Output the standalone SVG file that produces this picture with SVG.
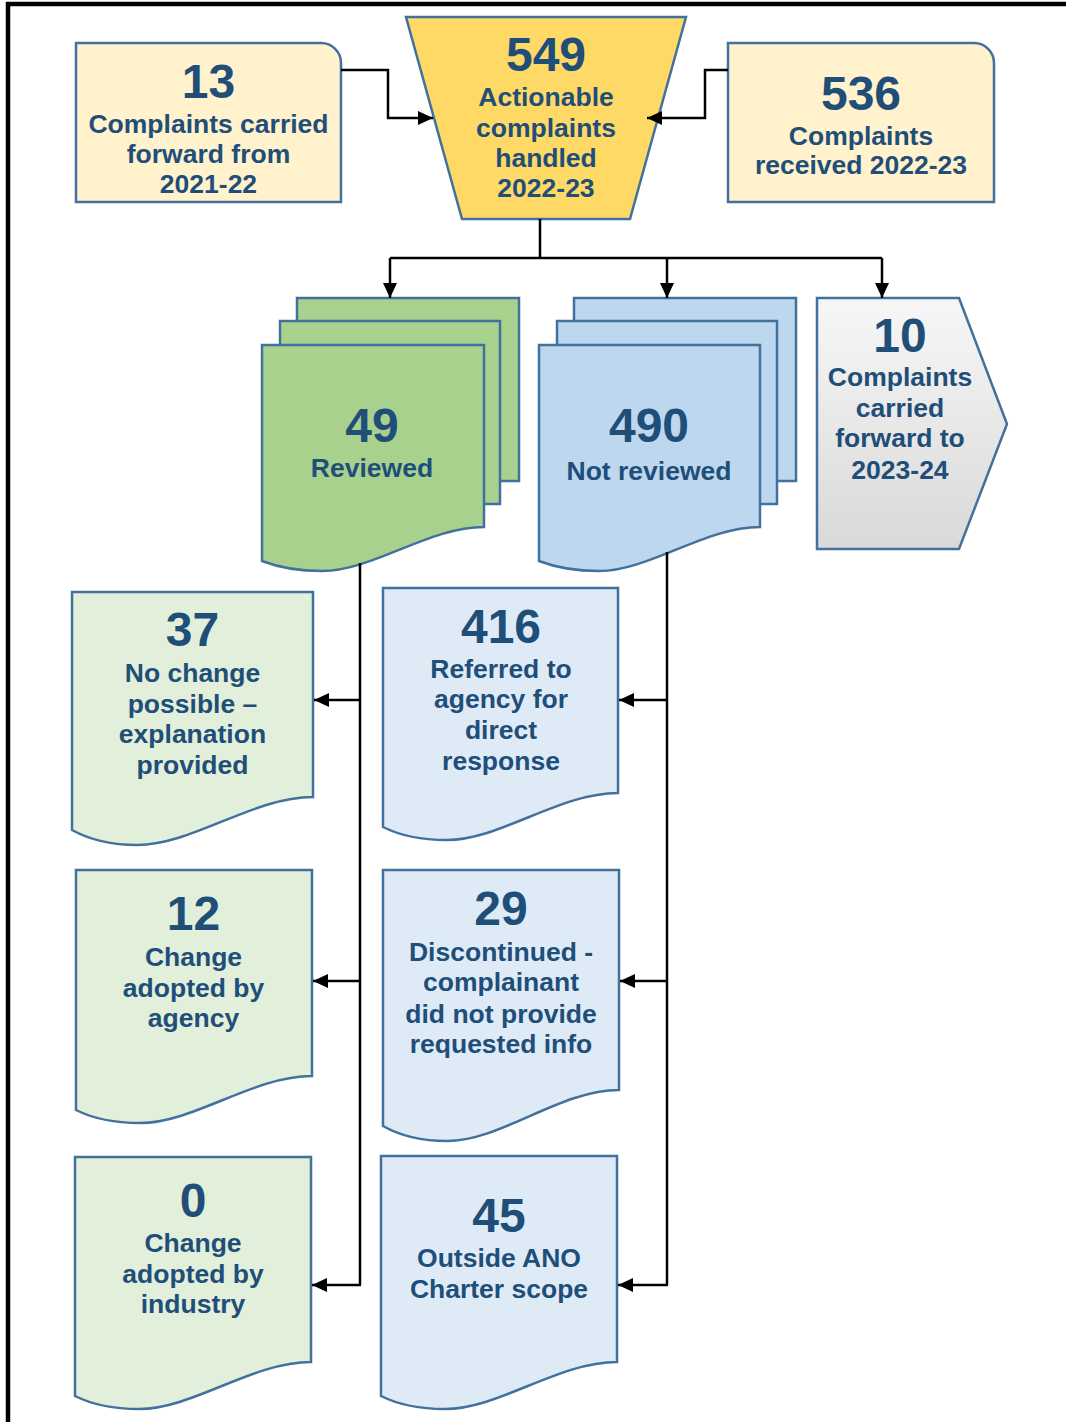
<svg xmlns="http://www.w3.org/2000/svg" width="1066" height="1422" viewBox="0 0 1066 1422">
<style>
.sh{stroke:#41719C;stroke-width:2.5;stroke-linejoin:miter}
.yl{fill:#FFF2CC}.yd{fill:#FFD966}
.gd{fill:#A9D18E}.gl{fill:#E2EFDA}
.bd{fill:#BDD7EE}.bl{fill:#DEEBF7}
.gr{fill:url(#grey)}
text{font-family:"Liberation Sans",Arial,sans-serif;font-weight:bold;fill:#1F4E79;text-anchor:middle}
.n{font-size:48px}.t{font-size:26.5px}
.c{fill:none;stroke:#000;stroke-width:2.5}
.a{marker-end:url(#arr)}
</style>
<defs>
<linearGradient id="grey" x1="0" y1="0" x2="0" y2="1">
<stop offset="0" stop-color="#F7F7F7"/>
<stop offset="1" stop-color="#D9D9D9"/>
</linearGradient>
<marker id="arr" markerWidth="15" markerHeight="14" refX="15" refY="7" orient="auto" markerUnits="userSpaceOnUse">
<path d="M0,0 L15,7 L0,14 Z" fill="#000"/>
</marker>
</defs>
<rect width="1066" height="1422" fill="#fff"/>
<path d="M8,1422 V4 H1066" fill="none" stroke="#000" stroke-width="4.5"/>

<g id="n13">
<path class="sh yl" d="M76,43 H321 A20,20 0 0 1 341,63 V202 H76 Z"/>
<text class="n" x="208.5" y="98">13</text>
<text class="t" x="208.5" y="133">Complaints carried</text>
<text class="t" x="208.5" y="163">forward from</text>
<text class="t" x="208.5" y="193">2021-22</text>
</g>
<g id="n549">
<path class="sh yd" d="M406,17 H686 L630,219 H462 Z"/>
<text class="n" x="546" y="71">549</text>
<text class="t" x="546" y="106">Actionable</text>
<text class="t" x="546" y="137">complaints</text>
<text class="t" x="546" y="167">handled</text>
<text class="t" x="546" y="197">2022-23</text>
</g>
<g id="n536">
<path class="sh yl" d="M728,43 H974 A20,20 0 0 1 994,63 V202 H728 Z"/>
<text class="n" x="861" y="110">536</text>
<text class="t" x="861" y="145">Complaints</text>
<text class="t" x="861" y="174">received 2022-23</text>
</g>
<g id="n49">
<rect class="sh gd" x="297" y="298" width="222" height="183"/>
<rect class="sh gd" x="280" y="321" width="220" height="183"/>
<path class="sh gd" d="M262,345 H484 V527 C428.5,527 373,571 322,571 C295,571 275,566 262,561 Z"/>
<text class="n" x="372" y="442">49</text>
<text class="t" x="372" y="477">Reviewed</text>
</g>
<g id="n490">
<rect class="sh bd" x="574" y="298" width="222" height="183"/>
<rect class="sh bd" x="557" y="321" width="220" height="183"/>
<path class="sh bd" d="M539,345 H760 V527 C705,527 649.5,571 599,571 C572,571 552,566 539,561 Z"/>
<text class="n" x="649" y="442">490</text>
<text class="t" x="649" y="480">Not reviewed</text>
</g>
<g id="n10">
<path class="sh gr" d="M817,298 H959 L1007,424 L959,549 H817 Z"/>
<text class="n" x="900" y="352">10</text>
<text class="t" x="900" y="386">Complaints</text>
<text class="t" x="900" y="417">carried</text>
<text class="t" x="900" y="447">forward to</text>
<text class="t" x="900" y="479">2023-24</text>
</g>
<g id="n37">
<path class="sh gl" d="M72,592 H313 V797 C253,797 192.5,845 137,845 C108,845 86.5,838 72,830 Z"/>
<text class="n" x="192.5" y="646">37</text>
<text class="t" x="192.5" y="682">No change</text>
<text class="t" x="192.5" y="713">possible –</text>
<text class="t" x="192.5" y="743">explanation</text>
<text class="t" x="192.5" y="774">provided</text>
</g>
<g id="n416">
<path class="sh bl" d="M383,588 H618 V793 C559,793 500.5,840 446.5,840 C418,840 397,834 383,827 Z"/>
<text class="n" x="501" y="643">416</text>
<text class="t" x="501" y="678">Referred to</text>
<text class="t" x="501" y="708">agency for</text>
<text class="t" x="501" y="739">direct</text>
<text class="t" x="501" y="770">response</text>
</g>
<g id="n12">
<path class="sh gl" d="M76,870 H312 V1076 C253,1076 194,1123 140,1123 C111,1123 90,1117 76,1110 Z"/>
<text class="n" x="193.5" y="930">12</text>
<text class="t" x="193.5" y="966">Change</text>
<text class="t" x="193.5" y="997">adopted by</text>
<text class="t" x="193.5" y="1027">agency</text>
</g>
<g id="n29">
<path class="sh bl" d="M383,870 H619 V1090 C560,1090 501,1141 447,1141 C418,1141 397,1134 383,1126 Z"/>
<text class="n" x="501" y="925">29</text>
<text class="t" x="501" y="961">Discontinued -</text>
<text class="t" x="501" y="991">complainant</text>
<text class="t" x="501" y="1023">did not provide</text>
<text class="t" x="501" y="1053">requested info</text>
</g>
<g id="n0">
<path class="sh gl" d="M75,1157 H311 V1362 C252,1362 193,1409 139,1409 C110,1409 89,1403 75,1396 Z"/>
<text class="n" x="193" y="1217">0</text>
<text class="t" x="193" y="1252">Change</text>
<text class="t" x="193" y="1283">adopted by</text>
<text class="t" x="193" y="1313">industry</text>
</g>
<g id="n45">
<path class="sh bl" d="M381,1156 H617 V1362 C558,1362 499,1409 445,1409 C416,1409 395,1403 381,1396 Z"/>
<text class="n" x="499" y="1232">45</text>
<text class="t" x="499" y="1267">Outside ANO</text>
<text class="t" x="499" y="1298">Charter scope</text>
</g>

<g id="connectors">
<path class="c a" d="M341,70 H388 V118 H433"/>
<path class="c a" d="M728,70 H705 V118 H647"/>
<path class="c" d="M540,219 V258 M390,258 H882"/>
<path class="c a" d="M390,258 V298"/>
<path class="c a" d="M667,258 V298"/>
<path class="c a" d="M882,258 V298"/>
<path class="c" d="M360,563 V1285"/>
<path class="c a" d="M360,700 H314"/>
<path class="c a" d="M360,981 H313"/>
<path class="c a" d="M361,1285 H312"/>
<path class="c" d="M667,552 V1285"/>
<path class="c a" d="M667,700 H619"/>
<path class="c a" d="M667,981 H620"/>
<path class="c a" d="M668,1285 H618"/>
</g>
</svg>
